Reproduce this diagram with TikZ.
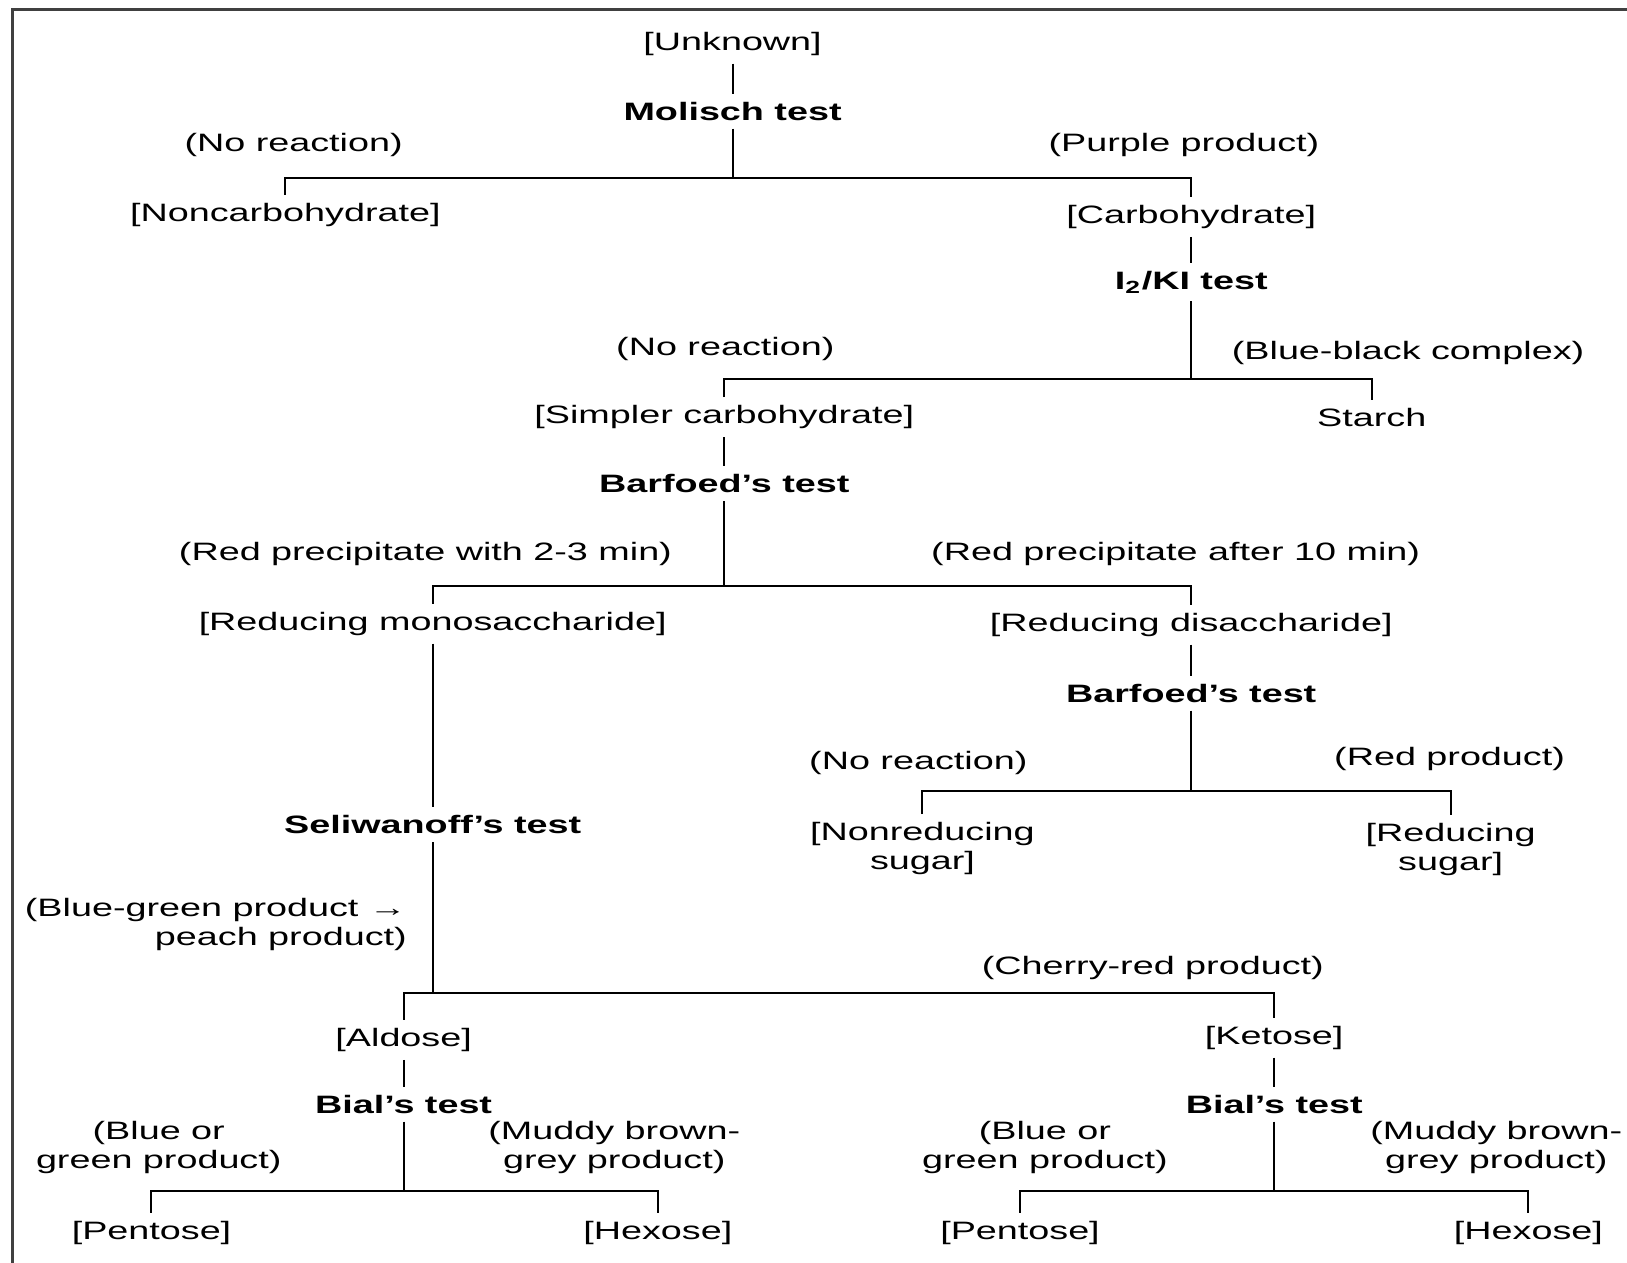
\documentclass[tikz,border=0pt]{standalone}
\usepackage{fontspec}
\setmainfont{Liberation Sans}[FakeStretch=1.5]
\lineskiplimit=-20pt

\begin{document}
\begin{tikzpicture}[line width=0.55pt,
    every node/.style={inner sep=2pt, font=\fontsize{6.9}{8.0}\selectfont},
    tst/.style={font=\fontsize{6.9}{8.0}\selectfont\bfseries},
    two/.style={align=center}]
\useasboundingbox (0,0) rectangle (15.68,-12.17);
% frame
\draw[line width=0.8pt, black!75] (0.12,-12.17) -- (0.12,-0.09) -- (15.68,-0.09);

% Molisch
\node (unknown) at (7.06,-0.42) {[Unknown]};
\node[tst] (molisch) at (7.06,-1.07) {Molisch test};
\node (nr1) at (2.83,-1.40) {(No reaction)};
\node (purple) at (11.41,-1.40) {(Purple product)};
\node (noncarb) at (2.75,-2.07) {[Noncarbohydrate]};
\node (carb) at (11.48,-2.09) {[Carbohydrate]};
\coordinate (j1) at (7.06,-1.72);
\draw (unknown) -- (molisch);
\draw (molisch) -- (j1);
\draw (noncarb) |- (j1) -| (carb);

% I2/KI
\node[tst] (iki) at (11.48,-2.72) {I\textsubscript{2}/KI test};
\node (nr2) at (6.99,-3.36) {(No reaction)};
\node (blueblack) at (13.57,-3.40) {(Blue-black complex)};
\node (simpler) at (6.98,-4.02) {[Simpler carbohydrate]};
\node (starch) at (13.22,-4.02) {Starch};
\coordinate (j2) at (11.48,-3.65);
\draw (carb) -- (iki);
\draw (iki) -- (j2);
\draw (simpler) |- (j2) -| (starch);

% Barfoed
\node[tst] (barf1) at (6.98,-4.66) {Barfoed's test};
\node (redwith) at (4.10,-5.34) {(Red precipitate with 2-3 min)};
\node (redafter) at (11.33,-5.34) {(Red precipitate after 10 min)};
\node (mono) at (4.17,-6.01) {[Reducing monosaccharide]};
\node (di) at (11.48,-6.02) {[Reducing disaccharide]};
\coordinate (j3) at (6.98,-5.65);
\draw (simpler) -- (barf1);
\draw (barf1) -- (j3);
\draw (mono) |- (j3) -| (di);

% Barfoed, disaccharide
\node[tst] (barf2) at (11.48,-6.68) {Barfoed's test};
\node (nr3) at (8.85,-7.35) {(No reaction)};
\node (redprod) at (13.97,-7.31) {(Red product)};
\node[two] (nonred) at (8.89,-8.18) {[Nonreducing\\sugar]};
\node[two] (red) at (13.98,-8.19) {[Reducing\\sugar]};
\coordinate (j4) at (11.48,-7.62);
\draw (di) -- (barf2);
\draw (barf2) -- (j4);
\draw (nonred) |- (j4) -| (red);

% Seliwanoff
\node[tst] (seli) at (4.17,-7.95) {Seliwanoff's test};
\node[align=right, anchor=east] (bluegreen) at (4.00,-8.91) {(Blue-green product →\\peach product)};
\node (cherry) at (11.11,-9.33) {(Cherry-red product)};
\node (aldose) at (3.89,-10.02) {[Aldose]};
\node (ketose) at (12.28,-10.00) {[Ketose]};
\coordinate (j5) at (4.17,-9.57);
\draw (mono) -- (seli);
\draw (seli) -- (j5);
\draw (aldose) |- (j5) -| (ketose);

% Bial, aldose
\node[tst] (bial1) at (3.89,-10.64) {Bial's test};
\node[two] (blueor1) at (1.53,-11.06) {(Blue or\\green product)};
\node[two] (muddy1) at (5.92,-11.06) {(Muddy brown-\\grey product)};
\node (pent1) at (1.46,-11.88) {[Pentose]};
\node (hex1) at (6.34,-11.88) {[Hexose]};
\coordinate (j6) at (3.89,-11.48);
\draw (aldose) -- (bial1);
\draw (bial1) -- (j6);
\draw (pent1) |- (j6) -| (hex1);

% Bial, ketose
\node[tst] (bial2) at (12.28,-10.64) {Bial's test};
\node[two] (blueor2) at (10.07,-11.06) {(Blue or\\green product)};
\node[two] (muddy2) at (14.42,-11.06) {(Muddy brown-\\grey product)};
\node (pent2) at (9.83,-11.88) {[Pentose]};
\node (hex2) at (14.73,-11.88) {[Hexose]};
\coordinate (j7) at (12.28,-11.48);
\draw (ketose) -- (bial2);
\draw (bial2) -- (j7);
\draw (pent2) |- (j7) -| (hex2);
\end{tikzpicture}
\end{document}
